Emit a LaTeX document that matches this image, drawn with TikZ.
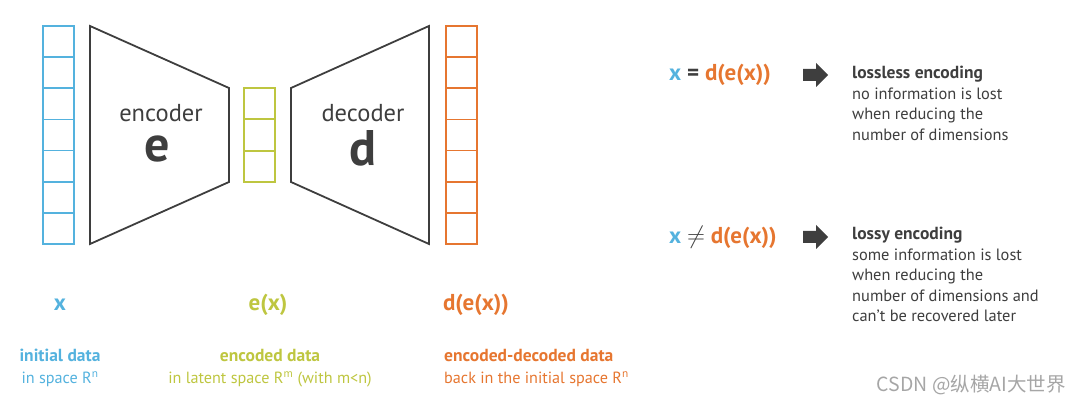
\documentclass[tikz,border=0pt]{standalone}
\usepackage{fontspec}
\setmainfont{PT Sans}
\newfontfamily\cjk{Noto Sans CJK SC}
\definecolor{inblue}{RGB}{84,178,222}
\definecolor{latgreen}{RGB}{190,198,64}
\definecolor{outorange}{RGB}{230,118,48}
\definecolor{textgray}{RGB}{62,62,62}
\newcommand{\fsz}[1]{\fontsize{#1}{#1}\selectfont}
\newcommand{\hd}[1]{{\fontsize{17.5}{20.5}\selectfont\bfseries #1}}
\tikzset{
  cell/.style={line width=1.8pt},
  funnel/.style={draw=textgray, line width=1.8pt, line join=miter},
  label/.style={inner sep=0pt, font=\fsz{23}\bfseries},
  caption/.style={inner sep=0pt, align=center, font=\fontsize{16.2}{22}\selectfont},
  note/.style={inner sep=0pt, anchor=north west, align=left, text=textgray,
    font=\fontsize{16.4}{20.5}\selectfont}
}
\begin{document}
\begin{tikzpicture}[x=1pt,y=-1pt]
  \useasboundingbox (0,0) rectangle (1080,406);
  % Cot du lieu vao, ma hoa, giai ma
  \foreach \i in {0,...,6}
    \draw[inblue, cell] (43,{26+\i*31.14}) rectangle (74,{26+(\i+1)*31.14});
  \foreach \i in {0,...,2}
    \draw[latgreen, cell] (244,{88+\i*31.33}) rectangle (275,{88+(\i+1)*31.33});
  \foreach \i in {0,...,6}
    \draw[outorange, cell] (446,{26+\i*31.14}) rectangle (477,{26+(\i+1)*31.14});
  % Hinh thang encoder / decoder
  \draw[funnel] (90,26) -- (229,88) -- (229,182) -- (90,244) -- cycle;
  \draw[funnel] (291,88) -- (429,26) -- (429,244) -- (291,182) -- cycle;
  \node[inner sep=0pt, text=textgray, font=\fsz{24.5}] (enc) at (161,113) {encoder};
  \node[inner sep=0pt, text=textgray, font=\fsz{50}\bfseries] (e) at (157,149) {e};
  \node[inner sep=0pt, text=textgray, font=\fsz{24.5}] (dec) at (363,113) {decoder};
  \node[inner sep=0pt, text=textgray, font=\fsz{50}\bfseries] (d) at (363,148) {d};
  % Nhan phia duoi
  \node[label, text=inblue] (x) at (60,305) {x};
  \node[label, text=latgreen] (ex) at (268,305) {e(x)};
  \node[label, text=outorange] (dex) at (476,305) {d(e(x))};
  \node[caption, text=inblue] (initial) at (60,368) {\hd{initial data}\\in space R\textsuperscript{n}};
  \node[caption, text=latgreen] (encoded) at (270,368) {\hd{encoded data}\\in latent space R\textsuperscript{m} (with m<n)};
  \node[caption, text=outorange, align=left, anchor=west] (back) at (444,368) {\hd{encoded-decoded data}\\back in the initial space R\textsuperscript{n}};
  % Ket luan ben phai
  \node[label, anchor=west] (lossless) at (669,75) {\textcolor{inblue}{x} \textcolor{textgray}{=} \textcolor{outorange}{d(e(x))}};
  \node[note] (txt1) at (852,66) {\hd{lossless encoding}\\no information is lost\\when reducing the\\number of dimensions};
  \node[label, anchor=west] (lossy) at (669,237) {\textcolor{inblue}{x} \textcolor{textgray}{$\neq$} \textcolor{outorange}{d(e(x))}};
  \node[note] (txt2) at (852,227) {\hd{lossy encoding}\\some information is lost\\when reducing the\\number of dimensions and\\can’t be recovered later};
  % Mui ten khoi
  \foreach \y in {75,237}
    \fill[textgray] (803,{\y-6}) -- (816,{\y-6}) -- (816,{\y-12}) -- (828,\y)
      -- (816,{\y+12}) -- (816,{\y+6}) -- (803,{\y+6}) -- cycle;
  % Watermark
  \node[inner sep=0pt, anchor=east, text=gray!70, font=\fsz{19.5}\cjk] (mark) at (1066,385) {CSDN @纵横AI大世界};
\end{tikzpicture}
\end{document}
